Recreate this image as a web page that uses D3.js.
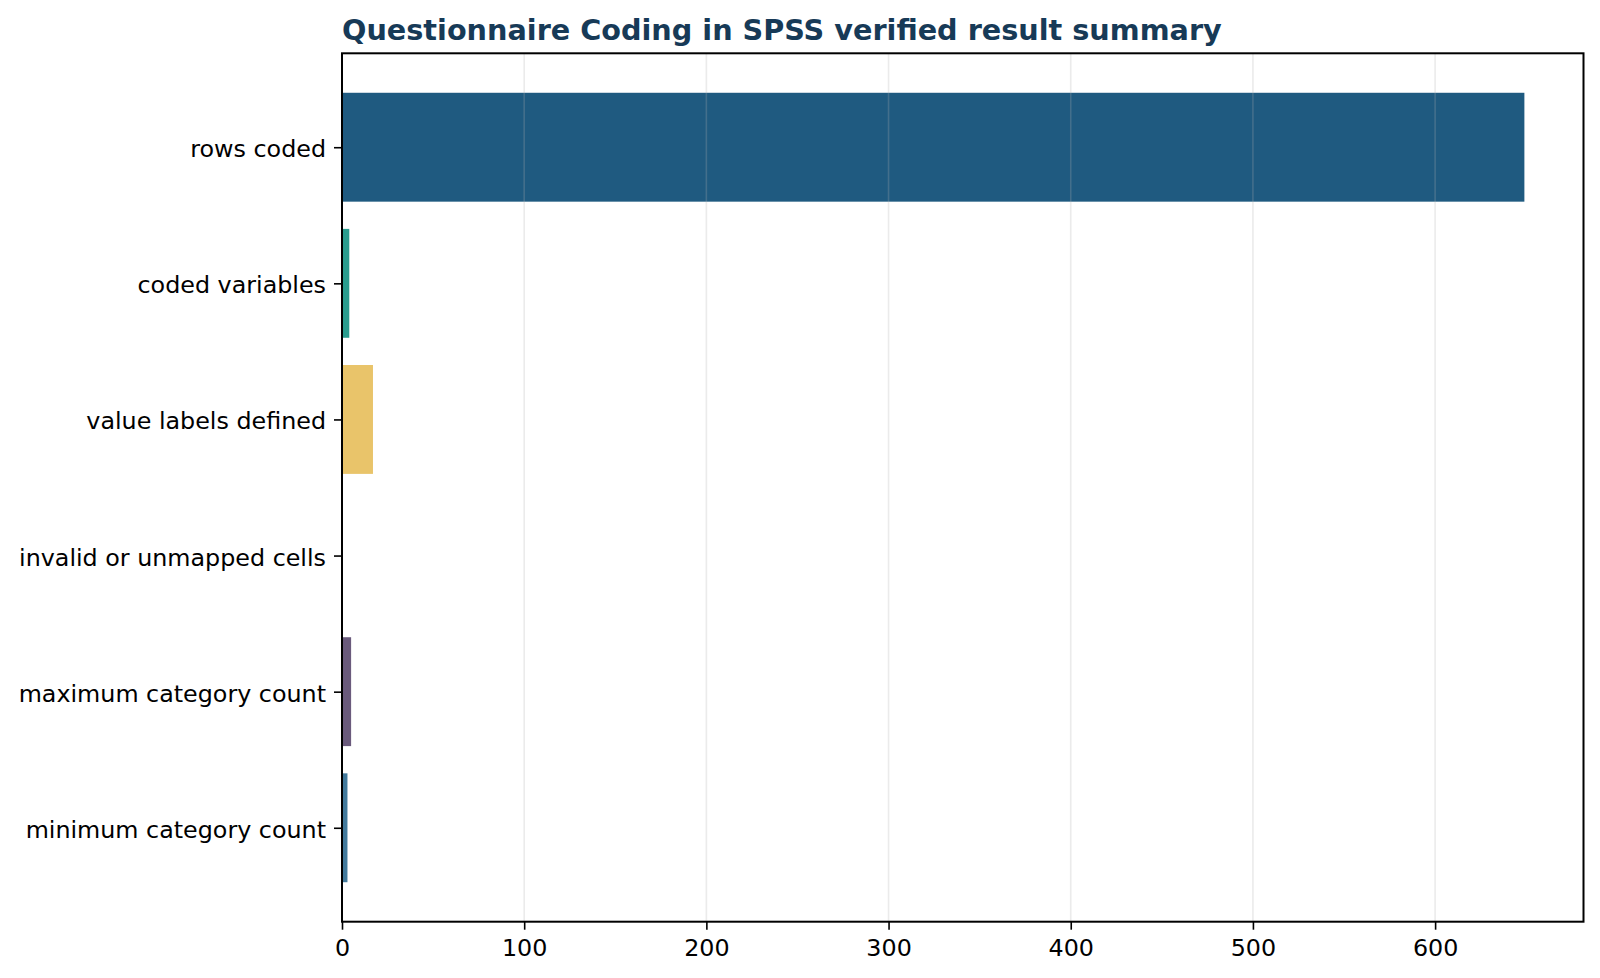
<!DOCTYPE html>
<html><head><meta charset="utf-8">
<script src="https://cdn.jsdelivr.net/npm/d3@7"></script>
<style>body{margin:0;background:#fff}svg{display:block}text{font-family:"DejaVu Sans",sans-serif}</style>
</head><body>
<svg id="c" width="1600" height="978"></svg>
<script>
const categories = ["rows coded","coded variables","value labels defined","invalid or unmapped cells","maximum category count","minimum category count"];
const values = [649, 4, 17, 0, 5, 3];
const colors = ["#1f5a80","#2a9d8f","#e9c46a","#e76f51","#6a5a7c","#437a9c"];
const xTicks = [0,100,200,300,400,500,600];
const title = "Questionnaire Coding in SPSS verified result summary";

const svg = d3.select("#c");
const L = 342, R = 1583.5, T = 53.3, B = 921.7;
const xMax = d3.max(values) * 1.05;
const x = d3.scaleLinear().domain([0, xMax]).range([L, R]);
const y = d3.scaleLinear().domain([-0.69, categories.length - 1 + 0.69]).range([T, B]);
const bh = y(0.8) - y(0);

// bars
svg.append("g").selectAll("rect").data(values).join("rect")
  .attr("x", x(0))
  .attr("y", (d,i) => y(i) - bh/2)
  .attr("width", d => x(d) - x(0))
  .attr("height", bh)
  .attr("fill", (d,i) => colors[i]);

// grid (over bars, like matplotlib)
svg.append("g").selectAll("line").data(xTicks).join("line")
  .attr("x1", d => x(d)).attr("x2", d => x(d))
  .attr("y1", T).attr("y2", B)
  .attr("stroke", "#b0b0b0").attr("stroke-opacity", 0.25).attr("stroke-width", 1.6);

// x axis
const xa = svg.append("g").attr("transform", `translate(0,${B})`)
  .call(d3.axisBottom(x).tickValues(xTicks).tickSize(8).tickPadding(9.5).tickFormat(d3.format("d")));
xa.select(".domain").remove();
xa.selectAll("line").attr("stroke", "#000").attr("stroke-width", 1.6);
xa.selectAll("text").attr("font-size", 23.8).attr("fill", "#000").attr("font-family", "DejaVu Sans");

// y axis
const ya = svg.append("g").attr("transform", `translate(${L},0)`)
  .call(d3.axisLeft(y).tickValues(d3.range(categories.length)).tickSize(8).tickPadding(8).tickFormat(i => categories[i]));
ya.select(".domain").remove();
ya.selectAll("line").attr("stroke", "#000").attr("stroke-width", 1.6);
ya.selectAll("text").attr("font-size", 23.8).attr("fill", "#000").attr("font-family", "DejaVu Sans").attr("dy", "0.4em");

// spines
svg.append("rect").attr("x", L).attr("y", T).attr("width", R - L).attr("height", B - T)
  .attr("fill", "none").attr("stroke", "#000").attr("stroke-width", 2);

// title
svg.append("text").attr("x", L).attr("y", 39.5)
  .attr("font-size", 28.7).attr("font-weight", "bold").attr("fill", "#173a57")
  .text(title);
</script>
</body></html>
